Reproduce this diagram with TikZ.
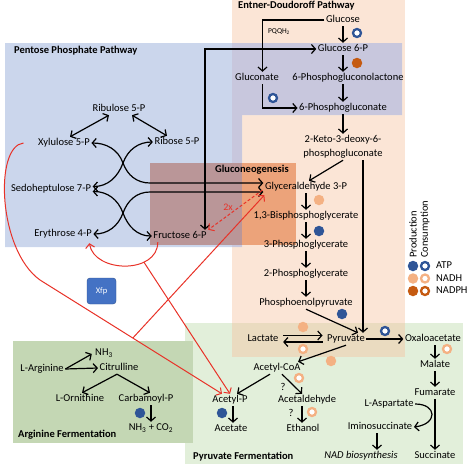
\documentclass[tikz,border=0pt]{standalone}
\usepackage{fontspec}
\setmainfont{Carlito}
\usetikzlibrary{arrows.meta}
\definecolor{atpblue}{RGB}{47,85,151}
\definecolor{nadh}{RGB}{244,177,131}
\definecolor{nadph}{RGB}{197,90,17}
\definecolor{myred}{RGB}{232,50,40}
\definecolor{xfpblue}{RGB}{68,114,196}
\definecolor{xfpdark}{RGB}{47,82,143}
\definecolor{bggreen}{RGB}{226,239,218}
\definecolor{bgpeach}{RGB}{251,229,214}
\definecolor{bgtan}{RGB}{234,219,192}
\definecolor{bgblue}{RGB}{203,214,236}
\definecolor{bglav}{RGB}{200,199,221}
\definecolor{bgrose}{RGB}{186,150,152}
\definecolor{bgorange}{RGB}{236,163,122}
\definecolor{bgarg}{RGB}{196,215,180}
\tikzset{
  lbl/.style={font=\fontsize{10.5}{14}\selectfont, inner sep=1.5pt, text height=7pt, text depth=2pt},
  ttl/.style={font=\fontsize{10.5}{13}\selectfont\bfseries, inner sep=0pt, anchor=west, text height=7pt, text depth=2pt},
  arr/.style={line width=1.2pt, -{Straight Barb[length=4pt,width=9pt]}},
  darr/.style={line width=1.2pt, {Straight Barb[length=4pt,width=9pt]}-{Straight Barb[length=4pt,width=9pt]}},
  rarr/.style={draw=myred, line width=1pt, -{Straight Barb[length=4pt,width=9pt]}},
  prod/.style={circle, fill=#1, minimum size=10.5pt, inner sep=0pt},
  cons/.style={circle, draw=#1, line width=2.3pt, fill=white, minimum size=8pt, inner sep=0pt},
}
\begin{document}
\begin{tikzpicture}[x=1pt,y=1pt]
\useasboundingbox (0,0) rectangle (467,-464);
% backgrounds
\fill[bggreen] (185,-323) rectangle (463,-464);
\fill[bgpeach] (232,0) rectangle (405,-357);
\fill[bgtan] (232,-323) rectangle (405,-357);
\fill[bgblue] (5,-43) -- (402,-43) -- (402,-115) -- (242,-115) -- (242,-247) -- (5,-247) -- cycle;
\fill[bglav] (232,-43) rectangle (402,-115);
\fill[bglav] (232,-115) rectangle (242,-247);
\fill[bgrose] (150,-163) rectangle (242,-245);
\fill[bgorange] (242,-163) rectangle (296,-245);
\fill[bgarg] (13,-341) rectangle (193,-443);

% titles
\node[ttl] (edt) at (238,-6) {Entner-Doudoroff Pathway};
\node[ttl] (ppt) at (14,-51) {Pentose Phosphate Pathway};
\node[ttl] (gngt) at (215,-170) {Gluconeogenesis};
\node[ttl] (argt) at (18,-435) {Arginine Fermentation};
\node[ttl] (pft) at (193,-457) {Pyruvate Fermentation};

% Entner-Doudoroff
\node[lbl] (glc) at (343,-20) {Glucose};
\node[lbl] (g6p) at (343,-49) {Glucose 6-P};
\node[lbl] (gcn) at (257,-78) {Gluconate};
\node[lbl] (pgl) at (348,-78) {6-Phosphogluconolactone};
\node[lbl] (pg6) at (343,-108) {6-Phosphogluconate};
\node[lbl, align=center, text height=, text depth=] (kdpg) at (343,-147) {2-Keto-3-deoxy-6-\\phosphogluconate};
\node[font=\fontsize{7.5}{9}\selectfont, inner sep=0pt] (pqq) at (279,-32) {PQQH\textsubscript{2}};
\draw[arr] (glc) -- (g6p);
\draw[arr] (g6p.south) -- (g6p.south |- pgl.north);
\draw[arr] (pgl.south -| pg6) -- (pg6.north);
\draw[arr] (pg6) -- (pg6.south |- kdpg.north);
\draw[arr] (glc.west) -| ([xshift=5.5pt]gcn.north);
\draw[arr] ([xshift=5.5pt]gcn.south) |- (pg6.west);
\node[cons=atpblue] (c1) at (357,-33) {};
\node[prod=nadph] (c2) at (357,-63) {};
\node[cons=atpblue] (c3) at (273,-98) {};

% Pentose phosphate
\node[lbl] (ru5p) at (119,-109) {Ribulose 5-P};
\node[lbl] (xu5p) at (64,-143) {Xylulose 5-P};
\node[lbl] (r5p) at (177,-142) {Ribose 5-P};
\node[lbl] (s7p) at (51,-189) {Sedoheptulose 7-P};
\node[lbl] (e4p) at (63,-234) {Erythrose 4-P};
\node[lbl] (f6p) at (180,-236) {Fructose 6-P};
\coordinate (xu) at (123,-163);
\coordinate (xl) at (123,-213);
\draw[darr] ([xshift=-10pt]ru5p.south) -- ([xshift=6pt]xu5p.north);
\draw[darr] ([xshift=13pt]ru5p.south) -- ([xshift=-10pt]r5p.north);

% glycolysis
\node[lbl] (g3p) at (306,-187) {Glyceraldehyde 3-P};
\node[lbl] (bpg) at (306,-216) {1,3-Bisphosphoglycerate};
\node[lbl] (pga3) at (306,-245) {3-Phosphoglycerate};
\node[lbl] (pga2) at (306,-274) {2-Phosphoglycerate};
\node[lbl] (pep) at (306,-303) {Phosphoenolpyruvate};
\draw[arr] (g3p) -- (bpg);
\draw[arr] (bpg) -- (pga3);
\draw[arr] (pga3) -- (pga2);
\draw[arr] (pga2) -- (pep);
\draw[arr] (kdpg.south) -- ([xshift=3pt]g3p.north);
\node[prod=nadh] (c4) at (319,-200) {};
\node[prod=atpblue] (c5) at (319,-231) {};

% transketolase / transaldolase
\draw[darr] (xu5p.east) to[out=0,in=110] (xu) to[out=-70,in=180] (150,-183) -- ([yshift=4pt]g3p.west);
\draw[darr] (r5p.west) to[out=180,in=70] (xu) to[out=-110,in=0] ([yshift=2.5pt]s7p.east);
\draw[darr] ([yshift=-2.5pt]s7p.east) to[out=0,in=110] (xl) to[out=-70,in=180] (f6p.west);
\draw[darr] (e4p.east) to[out=0,in=-110] (xl) to[out=70,in=180] (150,-192) -- ([yshift=-5pt]g3p.west);
\coordinate (iso) at (205,-49);
\draw[darr] (g6p.west) -- (iso) -- (iso |- f6p.north);

% pyruvate node area
\node[lbl] (pyr) at (346,-339) {Pyruvate};
\node[lbl] (lac) at (263,-339) {Lactate};
\node[lbl] (oxa) at (433,-339) {Oxaloacetate};
\node[lbl] (mal) at (435,-365) {Malate};
\node[lbl] (fum) at (435,-393) {Fumarate};
\node[lbl] (suc) at (435,-456) {Succinate};
\node[lbl] (asp) at (389,-404) {L-Aspartate};
\node[lbl] (imi) at (380,-427) {Iminosuccinate};
\node[lbl, font=\fontsize{10.5}{14}\selectfont\itshape] (nad) at (361,-456) {NAD biosynthesis};
\node[lbl] (acoa) at (277,-368) {Acetyl-CoA};
\node[lbl] (acp) at (230,-400) {Acetyl-P};
\node[lbl] (acet) at (231,-429) {Acetate};
\node[lbl] (acald) at (307,-400) {Acetaldehyde};
\node[lbl] (eth) at (303,-429) {Ethanol};
\node[lbl] (q1) at (283,-388) {?};
\node[lbl] (q2) at (291,-414) {?};

\draw[arr] ([xshift=20pt]kdpg.south) -- ([xshift=20pt]kdpg.south |- pyr.north);
\draw[arr] (pep.south) -- ([xshift=12pt]pyr.north);
\node[prod=atpblue] (c6) at (342,-314) {};
\draw[arr, shorten <=3pt, shorten >=3pt] ([yshift=3.5pt]lac.east) -- ([yshift=3.5pt]pyr.west);
\draw[arr, shorten <=3pt, shorten >=3pt] ([yshift=-3pt]pyr.west) -- ([yshift=-3pt]lac.east);
\node[prod=nadh] (c7) at (303,-327) {};
\node[cons=nadh] (c8) at (303,-349) {};
\draw[arr] (pyr.east) -- (oxa.west);
\node[cons=atpblue] (c9) at (385,-331) {};
\draw[arr] (oxa.south -| mal) -- (mal.north);
\node[cons=nadh] (c10) at (447,-349) {};
\draw[arr] (mal) -- (fum);
\draw[arr] (fum) -- (suc);
\draw[arr] (asp.east) .. controls +(22,0) and +(24,3) .. (imi.east);
\draw[arr] ([xshift=-3pt]imi.south) -- ([xshift=-3pt]imi.south |- nad.north);
\draw[arr] (pyr.south) -- ([xshift=-4pt]acoa.north east);
\node[prod=nadh] (c11) at (331,-361) {};
\draw[arr] ([xshift=-7pt]acoa.south) -- ([xshift=7pt]acp.north);
\draw[arr] ([xshift=5pt]acoa.south) -- ([xshift=-5pt]acald.north);
\node[cons=nadh] (c12) at (299,-378) {};
\draw[arr] ([xshift=3pt]acp.south) -- ([xshift=3pt]acp.south |- acet.north);
\node[prod=atpblue] (c13) at (222,-413) {};
\draw[arr] ([xshift=-5pt]acald.south) -- ([xshift=-5pt]acald.south |- eth.north);
\node[cons=nadh] (c14) at (312,-412) {};

% arginine
\node[lbl] (arg) at (42,-369) {L-Arginine};
\node[lbl] (nh3) at (104,-353) {NH\textsubscript{3}};
\node[lbl] (cit) at (119,-368) {Citrulline};
\node[lbl] (orn) at (80,-399) {L-Ornithine};
\node[lbl] (carb) at (146,-399) {Carbamoyl-P};
\node[lbl] (nhco) at (151,-428) {NH\textsubscript{3} + CO\textsubscript{2}};
\draw[arr, shorten >=2pt] (arg.east) -- (nh3.west);
\draw[arr] (arg.east) -- (cit.west);
\draw[arr] ([xshift=-2pt]cit.south) -- ([xshift=2pt]orn.north);
\draw[arr] ([xshift=-2pt]cit.south) -- ([xshift=4pt]carb.north);
\draw[arr] ([xshift=5pt]carb.south) -- ([xshift=5pt]carb.south |- nhco.north);
\node[prod=atpblue] (c15) at (140,-413) {};

% Xfp
\node[draw=xfpdark, fill=xfpblue, rounded corners=3pt, minimum width=29pt, minimum height=26pt, inner sep=0pt, text=white, font=\fontsize{8.5}{10}\selectfont] (xfp) at (101.5,-291) {Xfp};

% red reactions
\draw[rarr] ([xshift=-13pt]xu5p.west) .. controls (-6,-146) and (-2,-250) .. (40,-280) -- coordinate[pos=0.51] (pkj) ([xshift=-8pt]acp.north);
\draw[rarr] (pkj) -- ([xshift=1pt,yshift=-2pt]g3p.south west);
\draw[rarr] ([xshift=6pt]f6p.south west) .. controls +(0,-32) and +(5,-30) .. coordinate[pos=0.3] (xfj) ([xshift=-4pt,yshift=-3pt]e4p.south east);
\draw[rarr] (xfj) -- (acp.north);
\draw[rarr, dash pattern=on 3pt off 2pt] ([xshift=-1pt,yshift=3pt]g3p.south west) -- (f6p.north east);
\node[text=myred, font=\fontsize{10}{12}\selectfont, inner sep=0pt] (twox) at (228,-207) {2x};

% legend
\node[font=\fontsize{10.5}{12}\selectfont, rotate=90, anchor=west, inner sep=0pt] (lprod) at (413,-258) {Production};
\node[font=\fontsize{10.5}{12}\selectfont, rotate=90, anchor=west, inner sep=0pt] (lcons) at (425,-258) {Consumption};
\node[prod=atpblue] (l1) at (413,-266) {};
\node[cons=atpblue] (l2) at (425,-266) {};
\node[prod=nadh] (l3) at (413,-278.5) {};
\node[cons=nadh] (l4) at (425,-278.5) {};
\node[prod=nadph] (l5) at (413,-291) {};
\node[cons=nadph] (l6) at (425,-291) {};
\node[lbl, anchor=west, inner sep=0pt] (latp) at (436,-266) {ATP};
\node[lbl, anchor=west, inner sep=0pt] (lnadh) at (436,-278.5) {NADH};
\node[lbl, anchor=west, inner sep=0pt] (lnadph) at (436,-291) {NADPH};
\end{tikzpicture}
\end{document}
